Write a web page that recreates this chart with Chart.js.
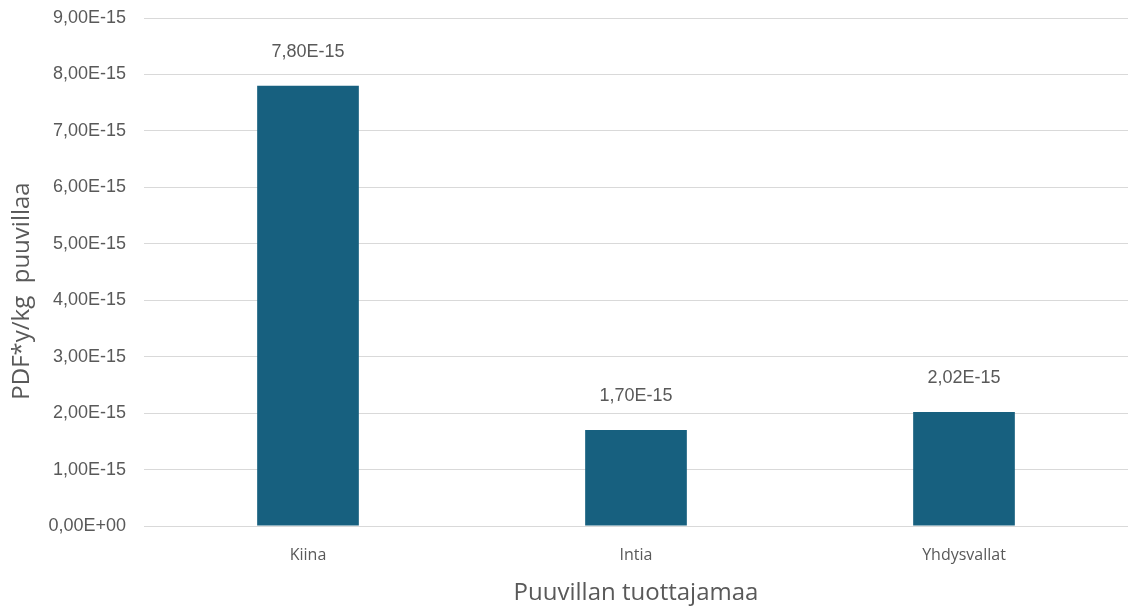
<!DOCTYPE html>
<html>
<head>
<meta charset="utf-8">
<script src="https://cdn.jsdelivr.net/npm/chart.js@4/dist/chart.umd.min.js"></script>
<style>
  html, body { margin: 0; padding: 0; background: #fff; }
  #wrap { width: 1130px; height: 609px; position: relative; }
</style>
</head>
<body>
<div id="wrap"><canvas id="pdfChart"></canvas></div>
<script>
// Puuvillan tuottajamaat ja niiden PDF*y/kg-arvot
const countries = ['Kiina', 'Intia', 'Yhdysvallat'];
const pdfValues = [7.80e-15, 1.70e-15, 2.02e-15];
const yTicks = [0, 1e-15, 2e-15, 3e-15, 4e-15, 5e-15, 6e-15, 7e-15, 8e-15, 9e-15];
const yTitle = 'PDF*y/kg  puuvillaa';
const xTitle = 'Puuvillan tuottajamaa';

const barColor = '#17607f';
const textColor = '#595959';
const titleFont = '"Open Sans", sans-serif';
const numFont = '"Liberation Sans", Arial, sans-serif';

// Excel-tyylinen muotoilu: 7,80E-15 / 0,00E+00
function formatSci(v) {
    if (v === 0) return '0,00E+00';
    const exp = Math.floor(Math.log10(Math.abs(v)) + 1e-9);
    const mant = v / Math.pow(10, exp);
    const sign = exp < 0 ? '-' : '+';
    const e = String(Math.abs(exp)).padStart(2, '0');
    return mant.toFixed(2).replace('.', ',') + 'E' + sign + e;
}

// Arvotunnisteet pylväiden yläpuolelle + pystyakselin otsikko
const extraText = {
    id: 'extraText',
    afterDatasetsDraw(chart) {
        const ctx = chart.ctx;
        const meta = chart.getDatasetMeta(0);
        ctx.save();
        ctx.font = '18px ' + numFont;
        ctx.fillStyle = textColor;
        ctx.textAlign = 'center';
        ctx.textBaseline = 'middle';
        meta.data.forEach((bar, i) => {
            ctx.fillText(formatSci(pdfValues[i]), bar.x, bar.y - 34);
        });

        // y-otsikko hieman plot-alueen keskikohdan alapuolelle
        const area = chart.chartArea;
        ctx.translate(22, (area.top + area.bottom) / 2 + 19);
        ctx.rotate(-Math.PI / 2);
        ctx.font = '24px ' + titleFont;
        ctx.fillText(yTitle, 0, 0);
        ctx.restore();
    }
};

new Chart(document.getElementById('pdfChart').getContext('2d'), {
    type: 'bar',
    data: {
        labels: countries,
        datasets: [{
            data: pdfValues,
            backgroundColor: barColor,
            borderWidth: 0,
            barPercentage: 0.31,
            categoryPercentage: 1
        }]
    },
    options: {
        responsive: true,
        maintainAspectRatio: false,
        animation: false,
        layout: { padding: { top: 18, right: 2, left: 0, bottom: 0 } },
        plugins: {
            legend: { display: false },
            tooltip: { enabled: false }
        },
        scales: {
            x: {
                afterFit(axis) { axis.height = 83; },
                grid: { display: false },
                border: { display: false },
                ticks: {
                    color: textColor,
                    font: { family: titleFont, size: 16 },
                    padding: 12
                },
                title: {
                    display: true,
                    text: xTitle,
                    color: textColor,
                    font: { family: titleFont, size: 24 },
                    padding: { top: 0, bottom: 1 }
                }
            },
            y: {
                min: 0,
                max: 9e-15,
                afterBuildTicks(axis) {
                    axis.ticks = yTicks.map(v => ({ value: v }));
                },
                afterFit(axis) {
                    axis.width = 144;
                    axis.paddingTop = 0;
                    axis.paddingBottom = 0;
                },
                grid: { color: '#d9d9d9', lineWidth: 1, drawTicks: false },
                border: { display: false },
                ticks: {
                    color: textColor,
                    font: { family: numFont, size: 18 },
                    padding: 18,
                    callback: v => formatSci(v)
                }
            }
        }
    },
    plugins: [extraText]
});
</script>
</body>
</html>
